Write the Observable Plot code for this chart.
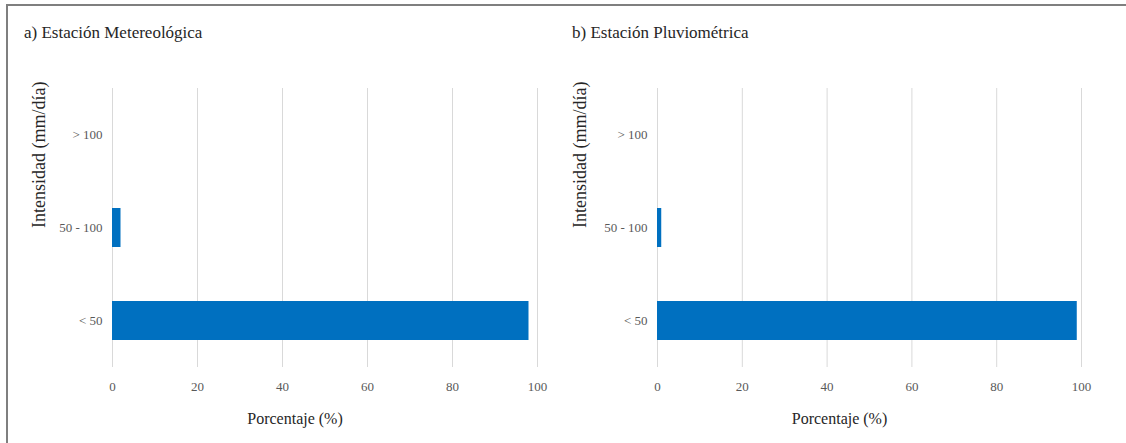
<!DOCTYPE html>
<html>
<head>
<meta charset="utf-8">
<script src="https://cdn.jsdelivr.net/npm/d3@7"></script>
<script src="https://cdn.jsdelivr.net/npm/@observablehq/plot@0.6"></script>
<style>
  html, body { margin: 0; padding: 0; background: #fff; }
  #wrap { position: relative; width: 1126px; height: 443px; overflow: hidden; font-family: "Times New Roman", Times, "Liberation Serif", "DejaVu Serif", serif; }
  #frame { position: absolute; left: 6px; top: 4px; width: 1130px; height: 450px; border-top: 2px solid #7f7f7f; border-left: 2px solid #7f7f7f; }
  .title { position: absolute; font-size: 17px; line-height: 17px; color: #262626; white-space: nowrap; }
  .panel { position: absolute; top: 0; }
</style>
</head>
<body>
<div id="wrap">
  <div id="frame"></div>
  <div class="title" id="tA" style="left:24px; top:24px;"></div>
  <div class="title" id="tB" style="left:572px; top:24px;"></div>
  <div class="panel" id="pA" style="left:0px;"></div>
  <div class="panel" id="pB" style="left:560px;"></div>
</div>
<script>
const categories = ["> 100", "50 - 100", "< 50"];
const valuesA = [0, 2, 98];
const valuesB = [0, 1, 99];
const xTicks = [0, 20, 40, 60, 80, 100];
const titleA = "a) Estación Metereológica";
const titleB = "b) Estación Pluviométrica";
const xLabel = "Porcentaje (%)";
const yLabel = "Intensidad (mm/día)";

document.getElementById("tA").textContent = titleA;
document.getElementById("tB").textContent = titleB;

const serif = "'Times New Roman', Times, 'Liberation Serif', 'DejaVu Serif', serif";

function panel(values, width, marginLeft, marginRight, yLabelOffset) {
  const data = categories.map((c, i) => ({cat: c, v: values[i]}));
  return Plot.plot({
    width,
    height: 443,
    marginLeft,
    marginRight,
    marginTop: 88,
    marginBottom: 76,
    style: {background: "transparent", fontFamily: serif, fontSize: "13px", color: "#595959", overflow: "visible"},
    x: {domain: [0, 100], ticks: xTicks},
    y: {domain: categories, paddingInner: 0.58, paddingOuter: 0.29},
    marks: [
      Plot.gridX(xTicks, {stroke: "#d9d9d9", strokeOpacity: 1, strokeWidth: 1}),
      Plot.barX(data, {x: "v", y: "cat", fill: "#0070c0"}),
      Plot.axisX(xTicks, {tickSize: 0, tickPadding: 14, label: null, fontSize: 13}),
      Plot.axisY({tickSize: 0, tickPadding: 10, label: null, fontSize: 13}),
      Plot.text([yLabel], {frameAnchor: "left", rotate: -90, dx: -yLabelOffset, fontSize: 18, fill: "#262626"}),
      Plot.text([xLabel], {frameAnchor: "bottom", dy: 56, dx: -30, fontSize: 16, fill: "#262626"})
    ]
  });
}

document.getElementById("pA").appendChild(panel(valuesA, 560, 112, 23, 73));
document.getElementById("pB").appendChild(panel(valuesB, 566, 97, 45, 77));
</script>
</body>
</html>
